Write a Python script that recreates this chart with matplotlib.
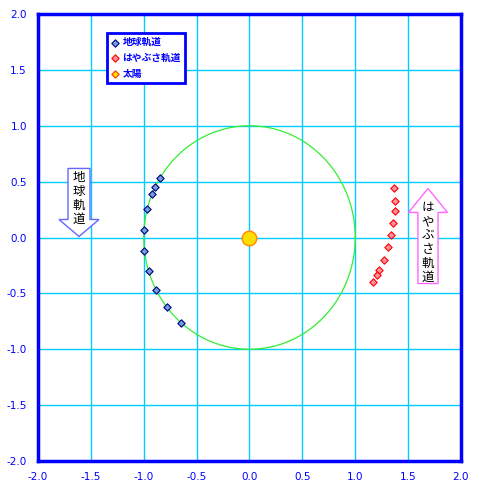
import numpy as np
import matplotlib.pyplot as plt
from matplotlib.patches import FancyArrow

plt.rcParams['font.family'] = ['Noto Sans CJK JP', 'DejaVu Sans']

# Earth orbit samples
earth_x = [-0.846, -0.894, -0.922, -0.972, -0.998, -0.998, -0.950, -0.887, -0.780, -0.651]
earth_y = [0.534, 0.454, 0.388, 0.254, 0.063, -0.122, -0.302, -0.474, -0.621, -0.761]

# Hayabusa orbit samples
haya_x = [1.363, 1.373, 1.376, 1.357, 1.338, 1.310, 1.272, 1.225, 1.206, 1.165]
haya_y = [0.442, 0.331, 0.236, 0.128, 0.018, -0.087, -0.203, -0.293, -0.334, -0.400]

sun_x = [0.0]
sun_y = [0.0]

ticks = [-2.0, -1.5, -1.0, -0.5, 0.0, 0.5, 1.0, 1.5, 2.0]
tick_labels = ['%.1f' % t for t in ticks]

fig = plt.figure(figsize=(4.79, 4.90), dpi=100)
ax = fig.add_axes([0.0793, 0.0592, 0.8831, 0.9122])

# reference circle (radius 1 AU)
t = np.linspace(0, 2 * np.pi, 400)
ax.plot(np.cos(t), np.sin(t), color='#33ee33', lw=0.9, zorder=2)

ax.scatter(earth_x, earth_y, marker='D', s=14, c='#6fa0d8', edgecolors='#000080',
           linewidths=0.8, zorder=4, label='地球軌道')
ax.scatter(haya_x, haya_y, marker='D', s=14, c='#ff8fa0', edgecolors='#ff0000',
           linewidths=0.8, zorder=4, label='はやぶさ軌道')
ax.scatter(sun_x, sun_y, marker='o', s=110, c='#ffdd00', edgecolors='#ff8800',
           linewidths=1.0, zorder=5)
ax.scatter([], [], marker='D', s=14, c='#ffdd00', edgecolors='#ff3300',
           linewidths=0.8, label='太陽')

# arrows
ax.add_patch(FancyArrow(-1.612, 0.618, 0, -0.609, width=0.208, head_width=0.378,
                        head_length=0.152, length_includes_head=True,
                        fc='white', ec='#6666ff', lw=1.0, zorder=3))
ax.text(-1.612, 0.35, '地\n球\n軌\n道', ha='center', va='center', fontsize=9,
        linespacing=1.1, zorder=6)
ax.add_patch(FancyArrow(1.688, -0.412, 0, 0.851, width=0.19, head_width=0.369,
                        head_length=0.215, length_includes_head=True,
                        fc='white', ec='#ff66ff', lw=1.0, zorder=3))
ax.text(1.688, -0.045, 'は\nや\nぶ\nさ\n軌\n道', ha='center', va='center', fontsize=9,
        linespacing=1.1, zorder=6)

ax.set_xlim(-2, 2)
ax.set_ylim(-2, 2)
ax.set_xticks(ticks)
ax.set_yticks(ticks)
ax.set_xticklabels(tick_labels, family='DejaVu Sans')
ax.set_yticklabels(tick_labels, family='DejaVu Sans')
ax.tick_params(length=0, labelsize=7.5, labelcolor='#0000ff', pad=8)
ax.grid(True, color='#00ccff', lw=1.0)
ax.set_axisbelow(True)
for s in ax.spines.values():
    s.set_color('#0000ff')
    s.set_linewidth(2.5)

leg = ax.legend(loc='upper left', bbox_to_anchor=(0.163, 0.957), borderaxespad=0,
                prop={'weight': 'bold', 'size': 7},
                handletextpad=0.3, borderpad=0.4, labelspacing=0.6,
                handlelength=0.9, fancybox=False, framealpha=1, edgecolor='#0000ff')
leg.get_frame().set_linewidth(2)
for txt in leg.get_texts():
    txt.set_color('#0000ff')

fig.savefig('out.png', dpi=100)
